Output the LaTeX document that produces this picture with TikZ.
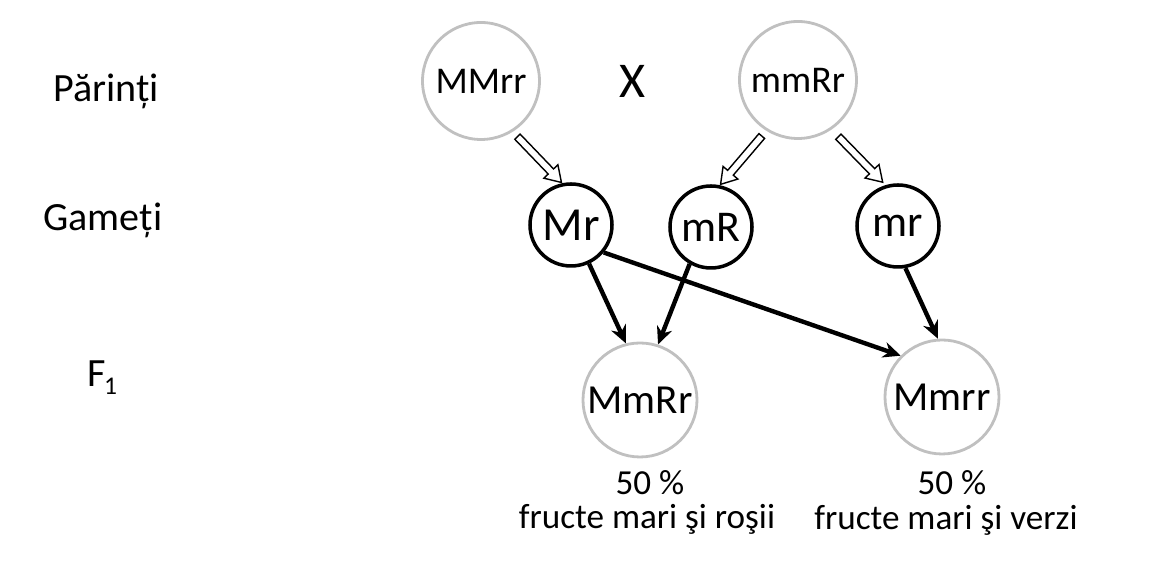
\documentclass[tikz,border=0pt]{standalone}
\usepackage{fontspec}
\setmainfont{Carlito}
\usepackage{tikz}
\usetikzlibrary{arrows.meta,shapes.arrows}
\definecolor{circleGray}{RGB}{192, 192, 192}

\begin{document}
\begin{tikzpicture}[
        parentCircle/.style={circle, draw=circleGray, line width=1.6pt, minimum size=2.34cm, inner sep=0pt, font=\fontsize{21.5}{24}\selectfont},
        childCircle/.style={parentCircle, minimum size=2.28cm, font=\fontsize{23.5}{26}\selectfont},
        gameteCircle/.style={circle, draw=black, line width=2pt, minimum size=1.64cm, inner sep=0pt, font=\fontsize{25}{28}\selectfont},
        hollowArrow/.style={single arrow, draw=black, fill=white, line width=0.8pt, minimum height=1.27cm, inner sep=0.06cm, single arrow head extend=0.12cm, single arrow tip angle=65, sloped, allow upside down},
        geneArrow/.style={line width=2.5pt, -{Stealth[length=10pt, width=9pt]}},
        rowLabel/.style={anchor=base west, inner sep=0pt, font=\fontsize{22.8}{26}\selectfont},
        shareText/.style={anchor=base, inner sep=0pt, font=\fontsize{20}{22}\selectfont}
    ]
        \useasboundingbox (0, 0) rectangle (23.02, 11.64);

        \node[rowLabel] (parentsLabel) at (1.06, 9.60) {Părinți};
        \node[rowLabel] (gametesLabel) at (0.86, 7.02) {Gameți};
        \node[rowLabel] (filialLabel) at (1.74, 3.90) {F\kern-0.04em\raisebox{-4pt}{\fontsize{14.5}{14.5}\selectfont 1}};

        \node[parentCircle] (MMrr) at (9.62, 10.02) {MMrr};
        \node[font=\fontsize{28.5}{30}\selectfont, inner sep=0pt] (cross) at (12.64, 10.02) {X};
        \node[parentCircle] (mmRr) at (15.96, 10.04) {mmRr};

        \node[gameteCircle, font=\fontsize{27}{30}\selectfont] (Mr) at (11.42, 7.14) {Mr};
        \node[gameteCircle] (mR) at (14.22, 7.10) {mR};
        \node[gameteCircle] (mr) at (17.96, 7.12) {mr};

        \node[childCircle] (MmRr) at (12.80, 3.64) {MmRr};
        \node[childCircle] (Mmrr) at (18.84, 3.70) {Mmrr};

        \path (MMrr.-58) -- node[hollowArrow] {} (Mr.102);
        \path (mmRr.-122) -- node[hollowArrow] {} (mR.78);
        \path (mmRr.-56) -- node[hollowArrow] {} (mr.107);

        \draw[geneArrow] (Mr.-65) -- (MmRr.104);
        \draw[geneArrow] (mR.-120) -- (MmRr.72);
        \draw[geneArrow] (Mr.-40) -- (Mmrr.135);
        \draw[geneArrow] (mr.-80) -- (Mmrr.94);

        \node[shareText] (redValue) at (13.00, 1.74) {50 \%};
        \node[shareText] (redTrait) at (12.94, 1.06) {fructe mari şi roşii};
        \node[shareText] (greenValue) at (19.04, 1.74) {50 \%};
        \node[shareText] (greenTrait) at (18.92, 1.05) {fructe mari şi verzi};
    \end{tikzpicture}
\end{document}
